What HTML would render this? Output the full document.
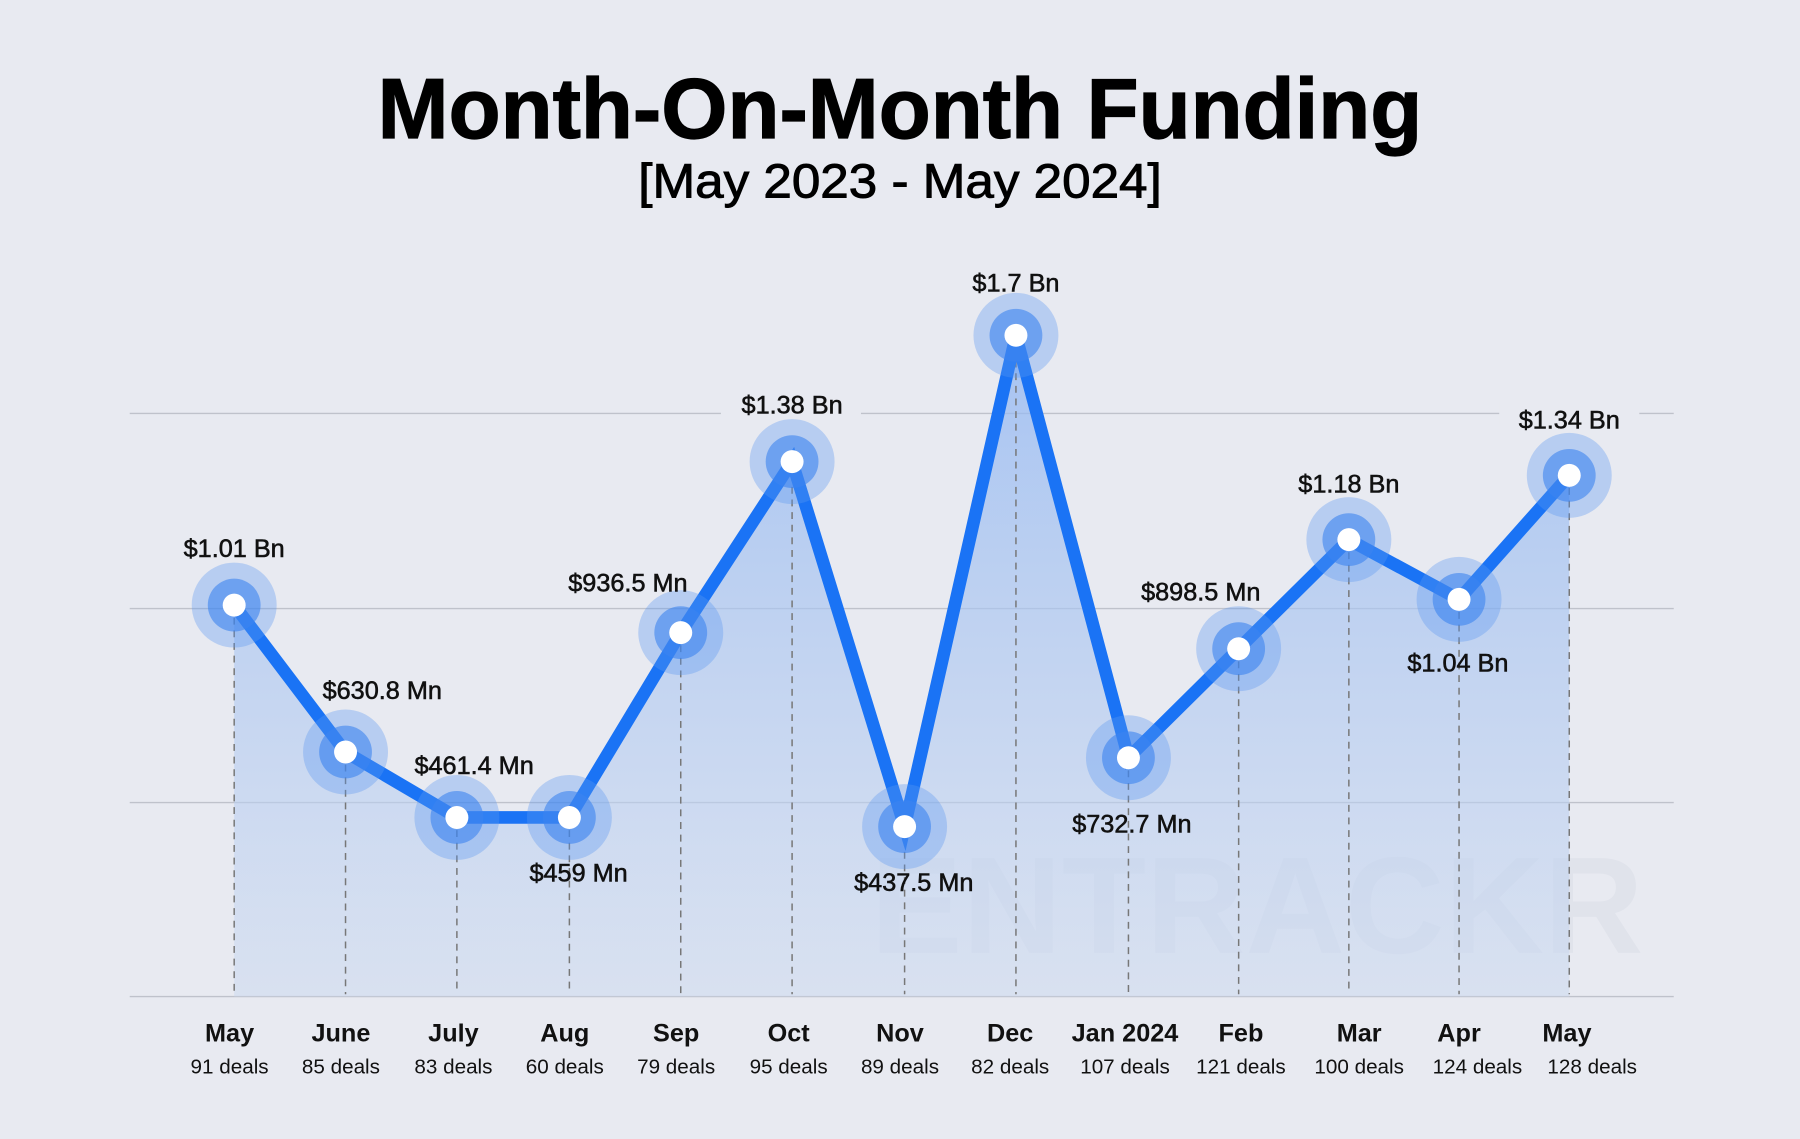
<!DOCTYPE html><html><head><style>html,body{margin:0;padding:0;background:#e8eaf1}svg{display:block}</style></head><body>
<svg width="1800" height="1139" viewBox="0 0 1568 992" xmlns="http://www.w3.org/2000/svg" font-family="Liberation Sans, sans-serif">
<defs><linearGradient id="g" x1="0" y1="0" x2="0" y2="1"><stop offset="0" stop-color="#90b6f2" stop-opacity="0.75"/><stop offset="1" stop-color="#c9d8f0" stop-opacity="0.5"/></linearGradient></defs>
<rect width="1568" height="992" fill="#e8eaf1"/>
<text x="784" y="120" text-anchor="middle" font-size="74" font-weight="bold" fill="#000" textLength="910" lengthAdjust="spacingAndGlyphs" stroke="#000" stroke-width="1">Month-On-Month Funding</text>
<text x="784" y="172" text-anchor="middle" font-size="42" fill="#000" textLength="456" lengthAdjust="spacingAndGlyphs" stroke="#000" stroke-width="0.8">[May 2023 - May 2024]</text>
<g stroke="#bfc2cb" stroke-width="1.2"><line x1="113" y1="360" x2="1458" y2="360"/><line x1="113" y1="530" x2="1458" y2="530"/><line x1="113" y1="699" x2="1458" y2="699"/><line x1="113" y1="868" x2="1458" y2="868"/></g>
<rect x="628" y="350" width="122" height="20" fill="#e8eaf1"/>
<rect x="1306" y="350" width="122" height="20" fill="#e8eaf1"/>
<text x="1095" y="830" text-anchor="middle" font-size="120" font-weight="bold" fill="#e0e3eb">ENTRACKR</text>
<polygon fill="url(#g)" points="204,527 301,655 398,712 496,712 593,551 690,402 788,720 885,292 983,660 1079,565 1175,470 1271,522 1367,414 1367,868 204,868"/>
<g stroke="#777" stroke-width="1.3" stroke-dasharray="6,5">
<line x1="204" y1="527" x2="204" y2="866"/><line x1="301" y1="655" x2="301" y2="866"/><line x1="398" y1="712" x2="398" y2="866"/><line x1="496" y1="712" x2="496" y2="866"/><line x1="593" y1="551" x2="593" y2="866"/><line x1="690" y1="402" x2="690" y2="866"/><line x1="788" y1="720" x2="788" y2="866"/><line x1="885" y1="292" x2="885" y2="866"/><line x1="983" y1="660" x2="983" y2="866"/><line x1="1079" y1="565" x2="1079" y2="866"/><line x1="1175" y1="470" x2="1175" y2="866"/><line x1="1271" y1="522" x2="1271" y2="866"/><line x1="1367" y1="414" x2="1367" y2="866"/></g>
<polyline fill="none" stroke="#1a73f5" stroke-width="11" stroke-linejoin="miter" points="204,527 301,655 398,712 496,712 593,551 690,402 788,720 885,292 983,660 1079,565 1175,470 1271,522 1367,414"/>
<g fill="#5d97f0" fill-opacity="0.35">
<circle cx="204" cy="527" r="37"/><circle cx="301" cy="655" r="37"/><circle cx="398" cy="712" r="37"/><circle cx="496" cy="712" r="37"/><circle cx="593" cy="551" r="37"/><circle cx="690" cy="402" r="37"/><circle cx="788" cy="720" r="37"/><circle cx="885" cy="292" r="37"/><circle cx="983" cy="660" r="37"/><circle cx="1079" cy="565" r="37"/><circle cx="1175" cy="470" r="37"/><circle cx="1271" cy="522" r="37"/><circle cx="1367" cy="414" r="37"/></g>
<g fill="#3c84f0" fill-opacity="0.6">
<circle cx="204" cy="527" r="23"/><circle cx="301" cy="655" r="23"/><circle cx="398" cy="712" r="23"/><circle cx="496" cy="712" r="23"/><circle cx="593" cy="551" r="23"/><circle cx="690" cy="402" r="23"/><circle cx="788" cy="720" r="23"/><circle cx="885" cy="292" r="23"/><circle cx="983" cy="660" r="23"/><circle cx="1079" cy="565" r="23"/><circle cx="1175" cy="470" r="23"/><circle cx="1271" cy="522" r="23"/><circle cx="1367" cy="414" r="23"/></g>
<g fill="#fff">
<circle cx="204" cy="527" r="10"/><circle cx="301" cy="655" r="10"/><circle cx="398" cy="712" r="10"/><circle cx="496" cy="712" r="10"/><circle cx="593" cy="551" r="10"/><circle cx="690" cy="402" r="10"/><circle cx="788" cy="720" r="10"/><circle cx="885" cy="292" r="10"/><circle cx="983" cy="660" r="10"/><circle cx="1079" cy="565" r="10"/><circle cx="1175" cy="470" r="10"/><circle cx="1271" cy="522" r="10"/><circle cx="1367" cy="414" r="10"/></g>
<g font-size="22" fill="#111" text-anchor="middle" stroke="#111" stroke-width="0.5">
<text x="204" y="485">$1.01 Bn</text><text x="333" y="609">$630.8 Mn</text><text x="413" y="674">$461.4 Mn</text><text x="504" y="768">$459 Mn</text><text x="547" y="515">$936.5 Mn</text>
<text x="690" y="360">$1.38 Bn</text>
<text x="796" y="776">$437.5 Mn</text><text x="885" y="254">$1.7 Bn</text><text x="986" y="725">$732.7 Mn</text><text x="1046" y="523">$898.5 Mn</text><text x="1175" y="429">$1.18 Bn</text><text x="1270" y="585">$1.04 Bn</text>
<text x="1367" y="373">$1.34 Bn</text></g>
<g text-anchor="middle" fill="#111">
<g font-size="22" font-weight="bold"><text x="200" y="907">May</text><text x="297" y="907">June</text><text x="395" y="907">July</text><text x="492" y="907">Aug</text><text x="589" y="907">Sep</text><text x="687" y="907">Oct</text><text x="784" y="907">Nov</text><text x="880" y="907">Dec</text><text x="980" y="907">Jan 2024</text><text x="1081" y="907">Feb</text><text x="1184" y="907">Mar</text><text x="1271" y="907">Apr</text><text x="1365" y="907">May</text></g>
<g font-size="18"><text x="200" y="935">91 deals</text><text x="297" y="935">85 deals</text><text x="395" y="935">83 deals</text><text x="492" y="935">60 deals</text><text x="589" y="935">79 deals</text><text x="687" y="935">95 deals</text><text x="784" y="935">89 deals</text><text x="880" y="935">82 deals</text><text x="980" y="935">107 deals</text><text x="1081" y="935">121 deals</text><text x="1184" y="935">100 deals</text><text x="1287" y="935">124 deals</text><text x="1387" y="935">128 deals</text></g></g>
</svg></body></html>
